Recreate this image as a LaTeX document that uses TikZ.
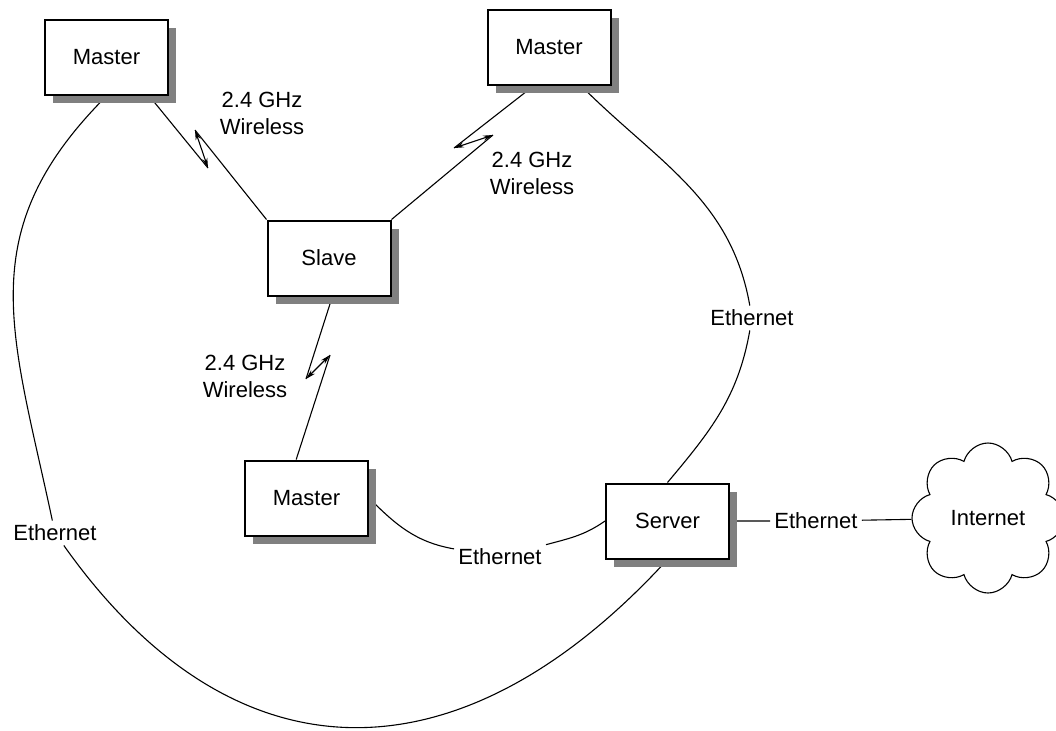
\documentclass[tikz,border=0pt]{standalone}
\usepackage{fontspec}
\setmainfont{Liberation Sans}
\usetikzlibrary{backgrounds, shadows, shapes.symbols, arrows.meta, positioning}

\tikzset{
	station/.style={draw, line width=1pt, fill=white, minimum width=61.5pt, minimum height=37.5pt,
		drop shadow={shadow xshift=4pt, shadow yshift=-4pt, fill=gray, opacity=1}},
	link/.style={line width=0.55pt},
	radio/.style={line width=0.55pt, {Stealth[length=5pt,width=2.6pt]}-{Stealth[length=5pt,width=2.6pt]}},
	lbl/.style={inner sep=2pt, align=center},
}

\begin{document}
\begin{tikzpicture}[x=0.5pt, y=-0.5pt, font=\fontsize{11}{13.5}\selectfont]
	\useasboundingbox (0,0) rectangle (1056,730);
	% boxes
	\node [station] (m1) at (106.5,57.5) {Master};
	\node [station] (m2) at (549,47.5) {Master};
	\node [station] (slave) at (329,258) {Slave};
	\node [station] (m3) at (306.5,498) {Master};
	\node [station] (server) at (667.5,521) {Server};
	\node [cloud, draw, link, cloud puffs=8, cloud ignores aspect, shape border rotate=22.5, minimum width=76pt, minimum height=75pt, inner sep=0pt] (net) at (988,518) {Internet};
	% labels
	\node [lbl] (wl1) at (262,113) {2.4 GHz\\Wireless};
	\node [lbl] (wl2) at (532,173) {2.4 GHz\\Wireless};
	\node [lbl] (wl3) at (245,376) {2.4 GHz\\Wireless};
	\node [lbl] (ethL) at (55,533) {Ethernet};
	\node [lbl] (ethM) at (500,557) {Ethernet};
	\node [lbl] (ethR) at (752,318) {Ethernet};
	\node [lbl, right=20pt of server] (ethS) {Ethernet};
	% bolt corners
	\coordinate (b1a) at (208,168);
	\coordinate (b1b) at (195,130);
	\coordinate (b2a) at (454,148);
	\coordinate (b2b) at (493,135);
	\coordinate (b3a) at (306,379);
	\coordinate (b3b) at (330,355);
	\begin{scope}[on background layer]
		% wireless
		\draw [link] (m1.-42) -- (b1a);
		\draw [radio] (b1a) -- (b1b);
		\draw [link] (b1b) -- (slave.north west);
		\draw [link] (m2.-112) -- (b2a);
		\draw [radio] (b2a) -- (b2b);
		\draw [link] (b2b) -- (slave.north east);
		\draw [link] (slave.-85) -- (b3a);
		\draw [radio] (b3a) -- (b3b);
		\draw [link] (b3b) -- (m3.105);
		% ethernet
		\draw [link] (m1.south) to[out=225, in=102, looseness=1.15] (ethL);
		\draw [link] (ethL) .. controls (234,786) and (460,786) .. (server.south);
		\draw [link] (m3.east) to[out=-45, in=170] (ethM);
		\draw [link] (ethM) to[out=15, in=215] (server.west);
		\draw [link] (m2.-50) to[out=-45, in=100] (ethR);
		\draw [link] (ethR) to[out=-100, in=50] (server.north);
		\draw [link] (server) -- (ethS) -- (net);
	\end{scope}
\end{tikzpicture}
\end{document}
